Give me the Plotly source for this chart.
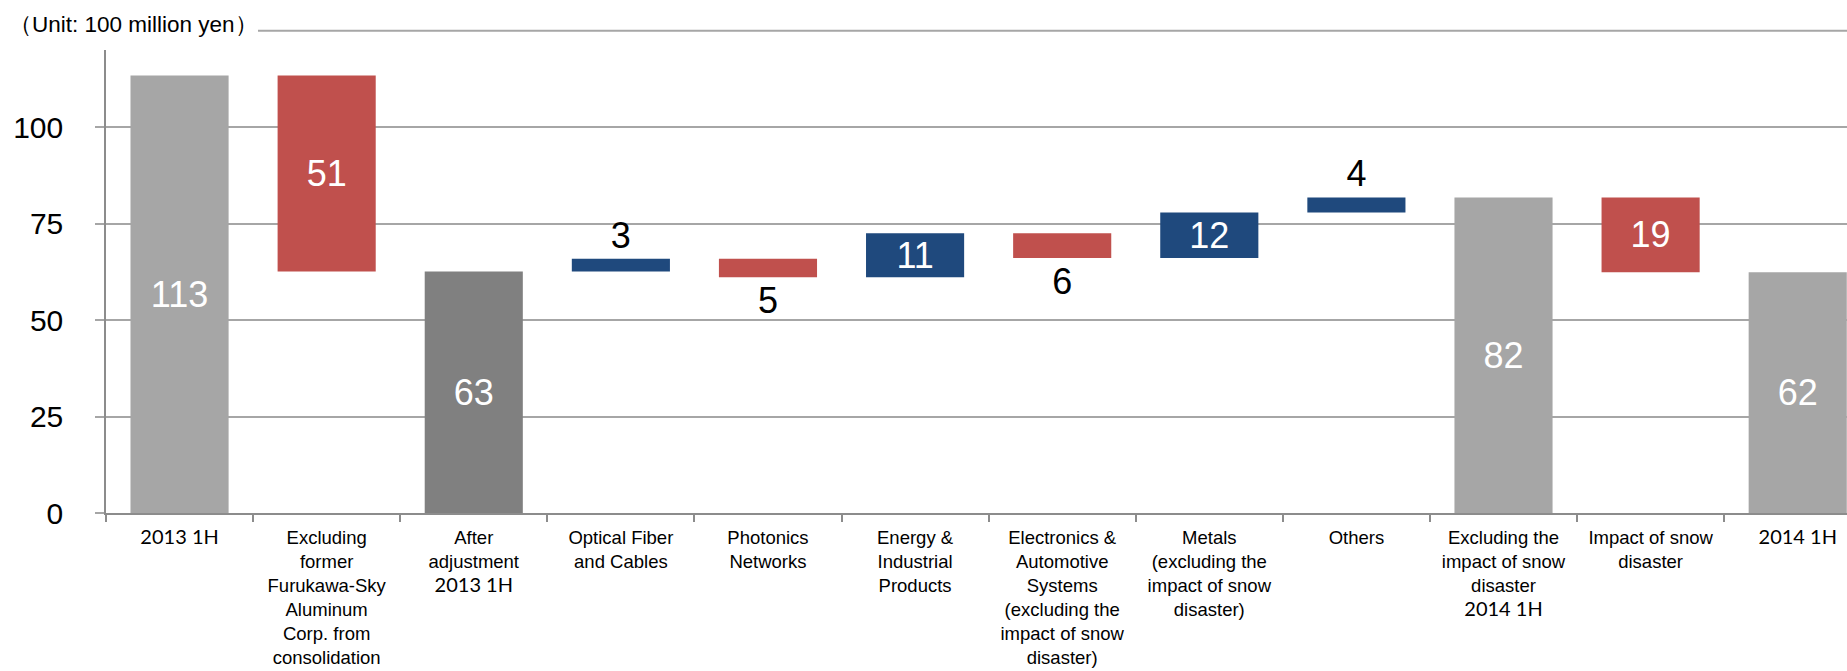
import plotly.graph_objects as go

# Category labels (line breaks as drawn under the axis)
PERIOD = '<span style="font-family:Lato;font-size:20px">{}</span>'
categories = [
    PERIOD.format("2013 1H"),
    "Excluding<br>former<br>Furukawa-Sky<br>Aluminum<br>Corp. from<br>consolidation",
    "After<br>adjustment<br>" + PERIOD.format("2013 1H"),
    "Optical Fiber<br>and Cables",
    "Photonics<br>Networks",
    "Energy &amp;<br>Industrial<br>Products",
    "Electronics &amp;<br>Automotive<br>Systems<br>(excluding the<br>impact of snow<br>disaster)",
    "Metals<br>(excluding the<br>impact of snow<br>disaster)",
    "Others",
    "Excluding the<br>impact of snow<br>disaster<br>" + PERIOD.format("2014 1H"),
    "Impact of snow<br>disaster",
    PERIOD.format("2014 1H"),
]

# Waterfall steps (100 million yen): absolute start, relative changes, running totals
measures = ["absolute", "relative", "total", "relative", "relative", "relative",
            "relative", "relative", "relative", "total", "relative", "total"]
amounts = [113.4, -50.8, None, 3.3, -4.8, 11.4, -6.4, 11.8, 3.9, None, -19.4, None]

y_ticks = [0, 25, 50, 75, 100]
unit_label = "（Unit: 100 million yen）"

# Colours
LIGHT_GREY = "#A6A6A6"
DARK_GREY = "#808080"
UP_BLUE = "#1F497D"
DOWN_RED = "#C0504D"
AXIS_GREY = "#8C8C8C"
GRID_GREY = "#A6A6A6"
FONT = "Liberation Sans, Arial, sans-serif"

# Build bar bases / heights from the running level
bases, heights, colors, labels, positions = [], [], [], [], []
level = 0.0
for i, (m, a) in enumerate(zip(measures, amounts)):
    if m == "absolute":
        level = a
        bases.append(0)
        heights.append(a)
        colors.append(LIGHT_GREY)
        shown = a
    elif m == "total":
        bases.append(0)
        heights.append(level)
        colors.append(DARK_GREY if i == 2 else LIGHT_GREY)
        shown = level
    else:
        bases.append(level)
        heights.append(a)
        colors.append(UP_BLUE if a > 0 else DOWN_RED)
        level += a
        shown = a
    labels.append(f"{abs(shown):.0f}")
    positions.append("outside" if abs(shown) < 7 else "inside")

fig = go.Figure(
    go.Bar(
        x=categories,
        y=heights,
        base=bases,
        width=0.667,
        marker=dict(color=colors, line=dict(width=0)),
        text=labels,
        textposition=positions,
        insidetextanchor="middle",
        textangle=0,
        textfont=dict(family=FONT, size=36),
        insidetextfont=dict(color="white"),
        outsidetextfont=dict(color="black"),
        cliponaxis=False,
        hoverinfo="skip",
    )
)

fig.update_layout(
    width=1847,
    height=671,
    margin=dict(l=106, r=0, t=50, b=158),
    paper_bgcolor="white",
    plot_bgcolor="white",
    showlegend=False,
    uniformtext=dict(minsize=36, mode="show"),
    font=dict(family=FONT, color="black"),
)

fig.update_xaxes(
    type="category",
    range=[-0.5, 11.335],
    automargin=False,
    showline=True,
    linecolor=AXIS_GREY,
    linewidth=1.5,
    ticks="outside",
    tickson="boundaries",
    ticklen=7,
    tickwidth=1.5,
    tickcolor=AXIS_GREY,
    tickfont=dict(family=FONT, size=18.5, color="black"),
    ticklabelstandoff=7,
    showgrid=False,
    zeroline=False,
)

fig.update_yaxes(
    range=[0, 120],
    automargin=False,
    tickvals=y_ticks,
    showgrid=True,
    gridcolor=GRID_GREY,
    gridwidth=1.5,
    showline=True,
    linecolor=AXIS_GREY,
    linewidth=1.5,
    ticks="outside",
    ticklen=9,
    tickwidth=1.5,
    tickcolor=GRID_GREY,
    tickfont=dict(family=FONT, size=30, color="black"),
    ticklabelstandoff=26,
    zeroline=False,
)

# Header rule to the right of the unit note, at the 125 level
fig.add_shape(
    type="line", xref="paper", yref="paper",
    x0=0.0873, x1=1.0, y0=125 / 120, y1=125 / 120,
    line=dict(color=GRID_GREY, width=2),
)

fig.add_annotation(
    text=unit_label,
    xref="paper", yref="paper",
    x=-0.057, y=1.054,
    xanchor="left", yanchor="middle",
    showarrow=False,
    font=dict(family=FONT, size=22.5, color="black"),
)

fig.write_html("out.html")
